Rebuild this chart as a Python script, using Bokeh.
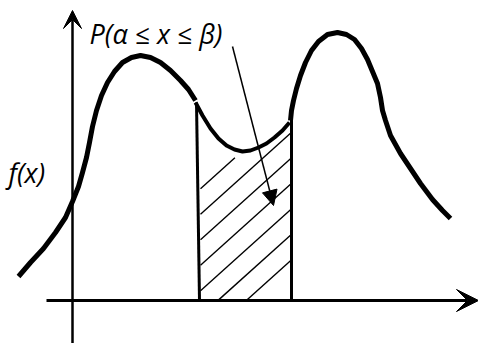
import numpy as np
from bokeh.plotting import figure
from bokeh.models import Range1d, Arrow, VeeHead, NormalHead
from bokeh.core.properties import value
from bokeh.embed import file_html
from bokeh.resources import INLINE

# Density curve, split at alpha and beta (origin where the axes cross, y upward)
left_x = [-54, -42, -29, -17, -7, 0, 6, 10, 14, 17, 20, 24, 29, 35, 42, 50, 59, 68, 78, 88, 98, 108, 116, 123]
left_y = [24, 38, 52, 68, 83, 99, 114, 128, 143, 158, 174, 190, 205, 218, 229, 238, 243, 245, 243, 238, 230, 220, 211, 200]

mid_x = [123, 130, 138, 146, 154, 162, 170, 178, 186, 194, 202, 210, 217]
mid_y = [198, 185, 172, 162, 155, 151, 149, 150, 153, 157, 163, 170, 178]

right_x = [218, 219, 221, 224, 228, 233, 239, 246, 255, 265, 274, 282, 289, 295, 300, 305, 308, 310, 313, 318, 328, 338, 348, 360, 370, 378]
right_y = [180, 190, 200, 212, 225, 238, 250, 259, 266, 268, 266, 261, 252, 241, 229, 217, 203, 190, 180, 165, 147, 132, 117, 101, 90, 82]

alpha_x = 126
beta_x = 219
beta_top = 190

label_text = "P(α ≤ x ≤ β)"
ylabel_text = "f(x)"

W, H = 478, 343
p = figure(width=W, height=H, output_backend="svg", toolbar_location=None,
           x_range=Range1d(-72, 406), y_range=Range1d(-43, 300),
           min_border=0, outline_line_color=None)
p.axis.visible = False
p.grid.visible = False
p.background_fill_color = "white"
p.border_fill_color = "white"

# hatching of the area between alpha and beta: parallel strokes clipped
# to the strip under the curve (kept a little below the curve itself)
slope, spacing, gap = 0.9, 25.5, 8.0
xs = np.linspace(alpha_x + 2, beta_x - 1, 600)
top = np.interp(xs, mid_x, mid_y) - gap
hatch_xs, hatch_ys = [], []
for c in np.arange(110, -60, -spacing):
    ys = c + slope * (xs - alpha_x)
    inside = (ys >= 0) & (ys <= top)
    if inside.sum() < 2:
        continue
    sx, sy = xs[inside], ys[inside]
    hatch_xs.append([sx[0], sx[-1]])
    hatch_ys.append([sy[0], sy[-1]])
p.multi_line(xs=hatch_xs, ys=hatch_ys, line_width=1.4, line_color="black")

# axes with arrowheads
p.add_layout(Arrow(x_start=-26, y_start=0, x_end=406, y_end=0,
                   line_width=3, line_color="black",
                   end=VeeHead(size=22, fill_color="black", line_color="black")))
p.add_layout(Arrow(x_start=0, y_start=-43, x_end=0, y_end=290,
                   line_width=2.5, line_color="black",
                   end=VeeHead(size=18, fill_color="black", line_color="black")))

# bounds of the interval
p.line(x=[alpha_x - 2, alpha_x + 1], y=[mid_y[0], 0], line_width=3, line_color="black")
p.line(x=[beta_x, beta_x], y=[beta_top, 0], line_width=3, line_color="black")

# the curve
p.line(x=left_x, y=left_y, line_width=5, line_color="black", line_join="round")
p.line(x=mid_x, y=mid_y, line_width=4, line_color="black", line_join="round")
p.line(x=right_x, y=right_y, line_width=5, line_color="black", line_join="round")

# label and pointer into the shaded area
p.text(x=[17], y=[267], text=[label_text], text_font=value("Open Sans"),
       text_font_style="italic", text_font_size="27px", text_color="black",
       text_baseline="alphabetic", text_align="left")
p.add_layout(Arrow(x_start=160, y_start=254, x_end=201, y_end=95,
                   line_width=1.5, line_color="black",
                   end=NormalHead(size=15, fill_color="black", line_color="black")))
p.text(x=[-64], y=[128], text=[ylabel_text], text_font=value("Open Sans"),
       text_font_style="italic", text_font_size="27px", text_color="black",
       text_baseline="middle", text_align="left")

open("out.html", "w").write(file_html(p, INLINE))
